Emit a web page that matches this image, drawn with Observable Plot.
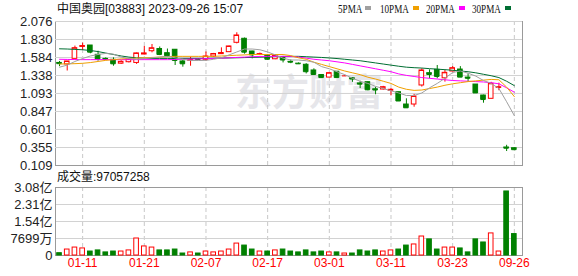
<!DOCTYPE html>
<html><head><meta charset="utf-8">
<script src="https://cdn.jsdelivr.net/npm/d3@7"></script>
<script src="https://cdn.jsdelivr.net/npm/@observablehq/plot@0.6"></script>
<style>
body{margin:0;background:#fff;}
#wrap{position:relative;width:578px;height:276px;overflow:hidden;font-family:Arial,"Liberation Sans","Noto Sans CJK SC",sans-serif;}
.abs{position:absolute;white-space:nowrap;line-height:1;}
#wrap svg{position:absolute;left:0;}
</style></head><body><div id="wrap"></div>
<script>
const titleText = "中国奥园[03883] 2023-09-26 15:07";
const volLabel = "成交量:97057258";
const dates = ["01-06","01-07","01-10","01-11","01-12","01-13","01-14","01-17","01-18","01-19","01-20","01-21","01-24","01-25","01-26","01-27","01-28","01-31","02-04","02-07","02-08","02-09","02-10","02-11","02-14","02-15","02-16","02-17","02-18","02-21","02-22","02-23","02-24","02-25","02-28","03-01","03-02","03-03","03-04","03-07","03-08","03-09","03-10","03-11","03-14","03-15","03-16","03-17","03-18","03-21","03-22","03-23","03-24","03-25","03-28","03-29","03-30","03-31","09-25","09-26"];
const tickDates = ["01-11","01-21","02-07","02-17","03-01","03-11","03-23","09-26"];
const opens  = [1.51,1.49,1.566,1.73,1.748,1.621,1.565,1.553,1.50,1.52,1.51,1.625,1.67,1.70,1.643,1.69,1.53,1.54,1.56,1.553,1.597,1.63,1.657,1.785,1.84,1.666,1.62,1.611,1.56,1.59,1.525,1.50,1.485,1.407,1.345,1.31,1.39,1.333,1.30,1.23,1.247,1.15,1.147,1.13,1.11,0.942,0.942,1.202,1.37,1.416,1.30,1.393,1.42,1.31,1.215,1.065,1.02,1.17,0.355,0.345];
const highs  = [1.53,1.53,1.74,1.78,1.748,1.67,1.58,1.58,1.54,1.57,1.645,1.735,1.762,1.728,1.70,1.69,1.544,1.59,1.57,1.66,1.64,1.716,1.74,1.922,1.85,1.67,1.645,1.62,1.625,1.60,1.55,1.51,1.50,1.43,1.35,1.37,1.39,1.34,1.31,1.26,1.25,1.178,1.19,1.16,1.11,1.02,1.08,1.43,1.416,1.475,1.41,1.46,1.46,1.36,1.215,1.07,1.245,1.234,0.385,0.35];
const lows   = [1.46,1.40,1.566,1.68,1.635,1.534,1.55,1.465,1.49,1.51,1.49,1.62,1.648,1.61,1.59,1.475,1.452,1.465,1.55,1.53,1.585,1.625,1.655,1.77,1.63,1.566,1.61,1.55,1.555,1.51,1.50,1.49,1.36,1.34,1.30,1.31,1.31,1.33,1.245,1.16,1.13,1.075,1.14,1.06,0.99,0.897,0.905,1.18,1.293,1.293,1.248,1.39,1.31,1.25,1.10,0.96,1.02,1.13,0.30,0.32];
const closes = [1.50,1.53,1.711,1.74,1.657,1.561,1.56,1.498,1.525,1.56,1.64,1.64,1.71,1.625,1.607,1.543,1.498,1.55,1.555,1.598,1.632,1.645,1.735,1.885,1.657,1.62,1.63,1.56,1.61,1.55,1.52,1.498,1.39,1.352,1.31,1.37,1.31,1.333,1.29,1.22,1.143,1.14,1.178,1.143,0.99,0.897,1.052,1.407,1.352,1.325,1.375,1.438,1.316,1.30,1.10,1.01,1.225,1.178,0.345,0.325];
const volumes = [1.05e7,2.7e7,3.6e7,3.2e7,1.8e7,2.3e7,1.4e7,1.8e7,1.8e7,2.3e7,7.7e7,4.1e7,3.6e7,2.3e7,2.3e7,2.7e7,0.9e7,1.4e7,0.9e7,1.8e7,1.4e7,1.8e7,2.7e7,5.4e7,4.5e7,2.7e7,1.8e7,1.8e7,2.3e7,2.7e7,1.8e7,1.4e7,2.3e7,1.4e7,1.8e7,1.4e7,1.4e7,0.9e7,0.9e7,2.3e7,1.8e7,2.3e7,1.8e7,2.3e7,2.7e7,4.5e7,5.0e7,8.6e7,7.3e7,2.7e7,3.6e7,3.6e7,3.2e7,1.4e7,7.3e7,5.9e7,1.0e8,1.8e7,2.9e8,97057258];
const ma5  = [1.452,1.48,1.53,1.57,1.605,1.625,1.64,1.63,1.59,1.57,1.56,1.57,1.58,1.59,1.60,1.58,1.56,1.543,1.543,1.545,1.56,1.58,1.62,1.66,1.70,1.70,1.69,1.66,1.62,1.575,1.55,1.55,1.54,1.52,1.46,1.43,1.39,1.35,1.30,1.26,1.23,1.19,1.16,1.13,1.10,1.065,1.065,1.10,1.17,1.23,1.30,1.38,1.40,1.37,1.33,1.27,1.23,1.16,0.98,0.79];
const ma10 = [1.495,1.497,1.50,1.505,1.515,1.53,1.545,1.555,1.565,1.57,1.575,1.58,1.585,1.59,1.595,1.60,1.60,1.60,1.60,1.60,1.60,1.605,1.61,1.615,1.62,1.625,1.625,1.625,1.625,1.625,1.61,1.58,1.56,1.52,1.49,1.46,1.43,1.40,1.375,1.35,1.315,1.29,1.26,1.23,1.18,1.15,1.135,1.14,1.16,1.18,1.205,1.225,1.24,1.255,1.265,1.275,1.285,1.28,1.18,1.05];
const ma20 = [1.56,1.558,1.556,1.555,1.555,1.555,1.555,1.555,1.555,1.555,1.555,1.555,1.555,1.555,1.555,1.557,1.56,1.562,1.565,1.568,1.572,1.576,1.58,1.585,1.59,1.595,1.598,1.60,1.60,1.60,1.60,1.59,1.575,1.56,1.55,1.54,1.525,1.51,1.49,1.47,1.45,1.43,1.41,1.39,1.36,1.34,1.325,1.31,1.30,1.29,1.28,1.27,1.265,1.26,1.255,1.25,1.24,1.225,1.17,1.11];
const ma30 = [1.703,1.70,1.695,1.69,1.68,1.665,1.645,1.625,1.605,1.59,1.58,1.575,1.572,1.572,1.572,1.572,1.572,1.572,1.572,1.572,1.574,1.576,1.578,1.58,1.583,1.586,1.589,1.592,1.595,1.598,1.60,1.60,1.595,1.59,1.585,1.578,1.57,1.56,1.55,1.54,1.525,1.51,1.495,1.48,1.465,1.452,1.445,1.44,1.432,1.425,1.418,1.41,1.40,1.39,1.375,1.355,1.335,1.31,1.26,1.20];
const priceTicks = [2.076,1.830,1.584,1.338,1.093,0.847,0.601,0.355,0.109];
const priceTickLabels = ["2.076","1.830","1.584","1.338","1.093","0.847","0.601","0.355","0.109"];
const volTicks = [3.0797e8,2.3098e8,1.5399e8,7.699e7,0];
const volTickLabels = ["3.08亿","2.31亿","1.54亿","7699万","0"];
const maNames = ["5PMA","10PMA","20PMA","30PMA"];
const maColors = ["#a0a0a0","#f0a000","#ff00ff","#006e32"];

const RED = "#ff0000", GRN = "#008000";
const FONT = 'Arial,"Liberation Sans","Noto Sans CJK SC",sans-serif';
const rows = dates.map((d, i) => ({i, date: d, open: opens[i], high: highs[i], low: lows[i], close: closes[i], vol: volumes[i],
  up: closes[i] >= opens[i], ma5: ma5[i], ma10: ma10[i], ma20: ma20[i], ma30: ma30[i]}));
const tickRows = rows.filter(r => tickDates.includes(r.date));
const xDomain = [-0.52, 60.06];
const hw = 0.3;
const wrap = document.getElementById("wrap");

const main = Plot.plot({
  width: 578, height: 170,
  marginTop: 21, marginBottom: 5, marginLeft: 55, marginRight: 56,
  x: {type: "linear", domain: xDomain, axis: null},
  y: {domain: [0.109, 2.076], axis: null},
  style: {fontFamily: FONT, background: "transparent", overflow: "visible"},
  marks: [
    Plot.text(["东方财富"], {frameAnchor: "middle", dx: 20, dy: 1, fontSize: 37, fontWeight: "bold", fill: "#e6e6ea", fontFamily: '"Noto Sans CJK SC",sans-serif'}),
    Plot.ruleX(tickRows, {x: "i", stroke: "#c8c8c8", strokeDasharray: "4,3"}),
    Plot.frame({stroke: "#9a9a9a"}),
    Plot.ruleY(priceTicks.slice(0, -1), {stroke: "#d2d2d2"}),
    Plot.axisY({ticks: priceTicks, tickFormat: d => priceTickLabels[priceTicks.indexOf(d)], tickSize: 0, tickPadding: 3, fontSize: 13, fill: "#222", label: null}),
    Plot.ruleX(rows, {x: "i", y1: "low", y2: "high", stroke: d => d.up ? RED : GRN}),
    Plot.rect(rows, {x1: d => d.i - hw, x2: d => d.i + hw, y1: "open", y2: "close", fill: d => d.up ? "#ffffff" : GRN, stroke: d => d.up ? RED : GRN}),
    Plot.ruleY(rows, {x1: d => d.i - hw, x2: d => d.i + hw, y: "close", stroke: d => d.up ? RED : GRN}),
    Plot.line(rows, {x: "i", y: "ma30", stroke: maColors[3], strokeWidth: 1}),
    Plot.line(rows, {x: "i", y: "ma20", stroke: maColors[2], strokeWidth: 1}),
    Plot.line(rows, {x: "i", y: "ma10", stroke: maColors[1], strokeWidth: 1}),
    Plot.line(rows, {x: "i", y: "ma5", stroke: maColors[0], strokeWidth: 1})
  ]
});
main.style.top = "0px";
wrap.appendChild(main);

const vol = Plot.plot({
  width: 578, height: 106,
  marginTop: 17, marginBottom: 21, marginLeft: 55, marginRight: 56,
  x: {type: "linear", domain: xDomain, axis: null},
  y: {domain: [0, 3.0797e8], axis: null},
  style: {fontFamily: FONT, background: "transparent", overflow: "visible"},
  marks: [
    Plot.ruleX(tickRows, {x: "i", stroke: "#c8c8c8", strokeDasharray: "4,3"}),
    Plot.ruleY(volTicks.slice(1, -1), {stroke: "#d2d2d2"}),
    Plot.frame({stroke: "#9a9a9a"}),
    Plot.axisY({ticks: volTicks, tickFormat: d => volTickLabels[volTicks.indexOf(d)], tickSize: 0, tickPadding: 3, fontSize: 13, fill: "#222", label: null}),
    Plot.rect(rows, {x1: d => d.i - hw, x2: d => d.i + hw, y1: 0, y2: "vol", fill: d => d.up ? "#ffffff" : GRN, stroke: d => d.up ? RED : GRN}),
    Plot.text(tickRows, {x: "i", text: "date", frameAnchor: "bottom", dy: 11, fill: RED, fontSize: 12})
  ]
});
vol.style.top = "170px";
wrap.appendChild(vol);

function addText(txt, left, top, size, color) {
  const el = document.createElement("div");
  el.className = "abs";
  el.textContent = txt;
  el.style.left = left + "px"; el.style.top = top + "px";
  el.style.fontSize = size + "px"; el.style.color = color;
  wrap.appendChild(el);
  return el;
}
addText(titleText, 57, 3, 12, "#111");
addText(volLabel, 57, 171, 12, "#111");

// legend: each item placed where the reference shows it
const legendLeft = [338, 380, 426, 472];
maNames.forEach((n, k) => {
  const s = addText(n, legendLeft[k], 3, 12, "#111");
  s.style.fontFamily = '"Liberation Serif","DejaVu Serif",serif';
  s.style.transform = "scaleX(0.76)";
  s.style.transformOrigin = "left";
  const dsh = document.createElement("div");
  dsh.className = "abs";
  dsh.style.left = (legendLeft[k] + (k === 0 ? 27 : 33)) + "px";
  dsh.style.top = "6px"; dsh.style.width = "6px"; dsh.style.height = "4px";
  dsh.style.background = maColors[k];
  wrap.appendChild(dsh);
});
</script></body></html>
